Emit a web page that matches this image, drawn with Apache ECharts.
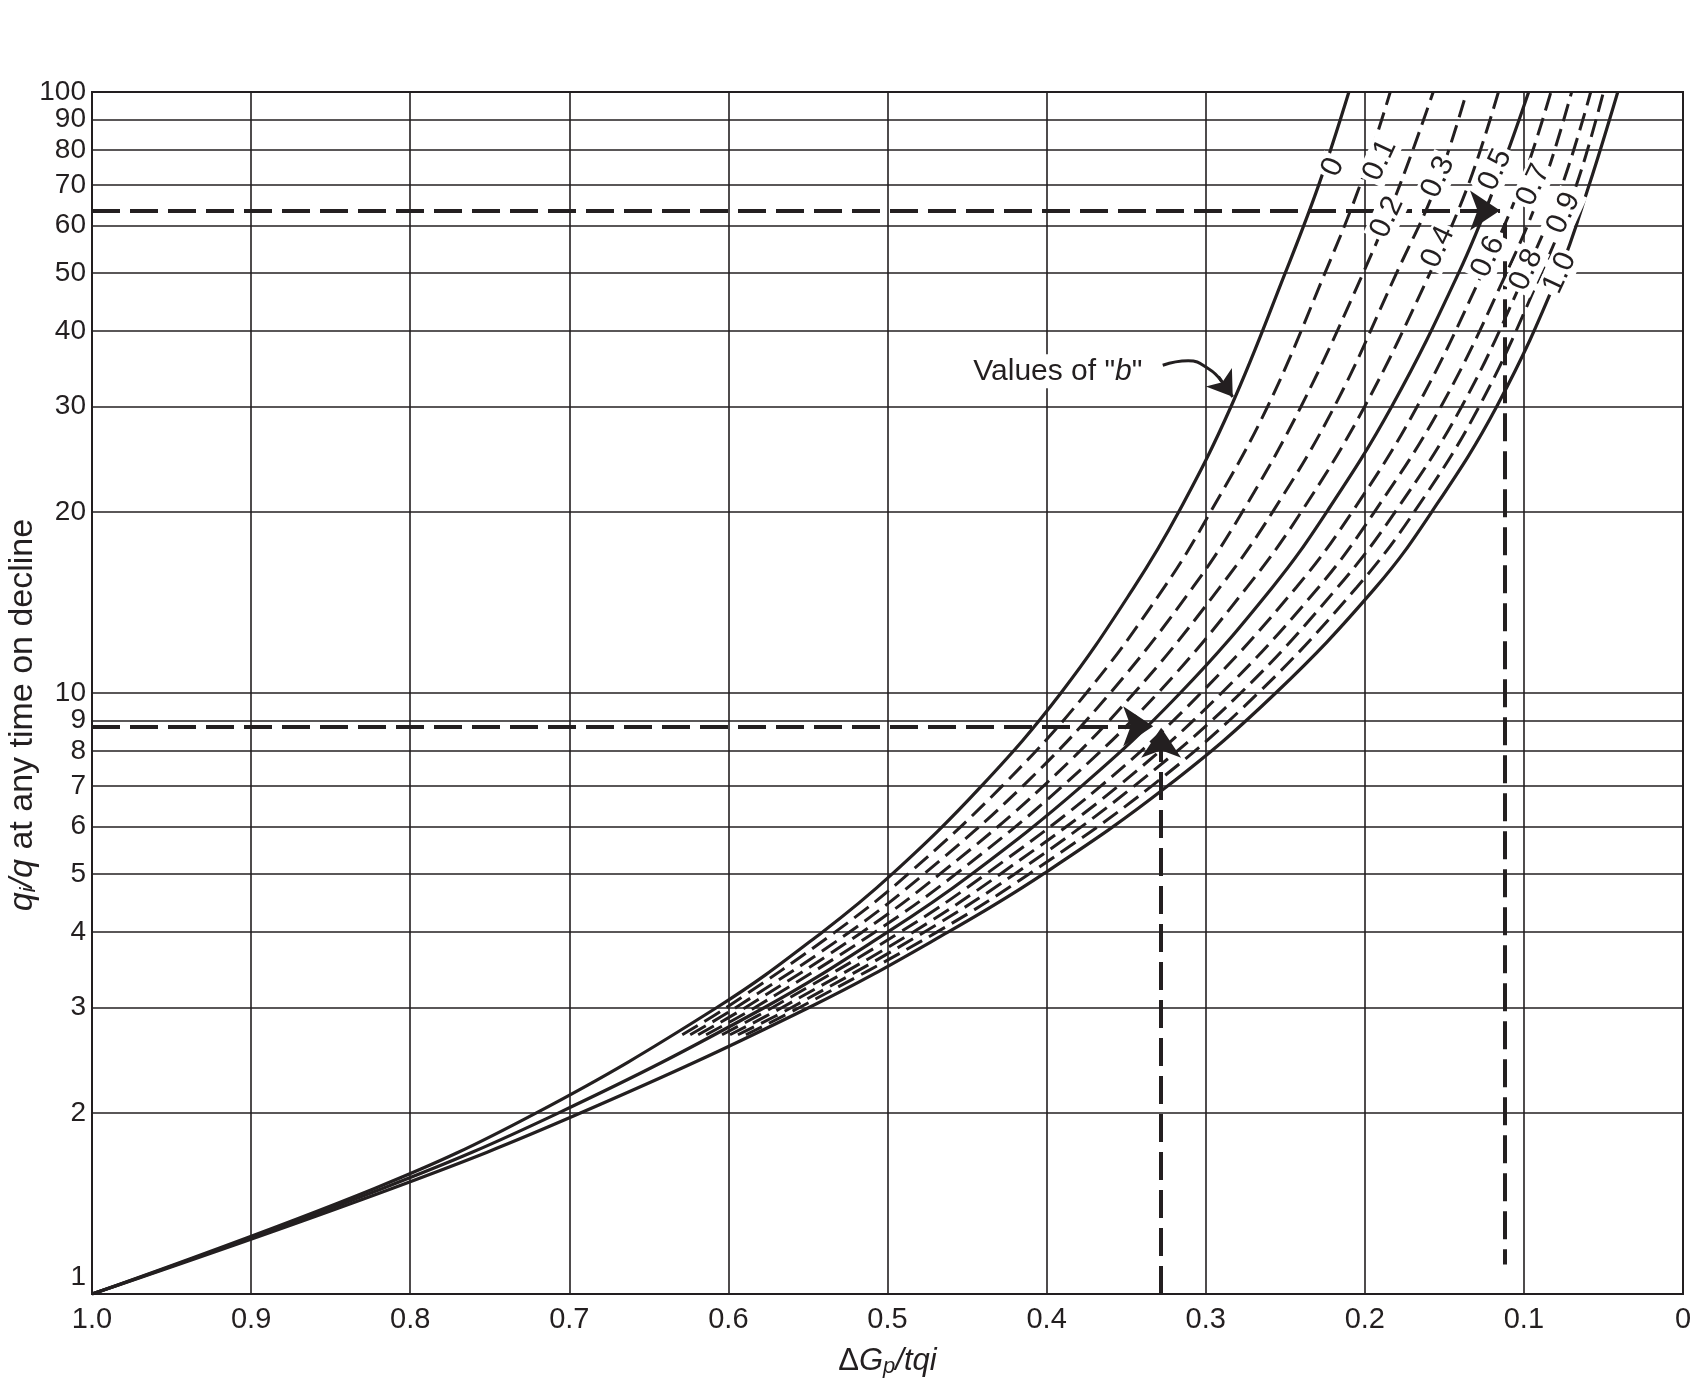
<!DOCTYPE html>
<html>
<head>
<meta charset="utf-8">
<script src="https://cdn.jsdelivr.net/npm/echarts@6/dist/echarts.min.js"></script>
<style>
  html, body { margin: 0; padding: 0; background: #fff; }
  #chart { width: 1708px; height: 1388px; }
</style>
</head>
<body>
<div id="chart"></div>
<script>
// qi/q values where the curves were read
var ratioSolid = [1, 1.5, 2, 3, 4, 5, 7, 10, 15, 20, 30, 50, 70, 100];
var ratioDashed = [2.7, 3, 4, 5, 7, 10, 15, 20, 30, 50, 70, 100];

// dGp/tqi for each value of b (solid: 0, 0.5, 1.0 ; dashed start near 0.6)
var b00 = [1.000, 0.822, 0.721, 0.607, 0.541, 0.497, 0.441, 0.391, 0.345, 0.317, 0.284, 0.250, 0.229, 0.210];
var b01 = [0.629, 0.601, 0.533, 0.487, 0.428, 0.375, 0.326, 0.297, 0.261, 0.225, 0.203, 0.184];
var b02 = [0.624, 0.595, 0.524, 0.477, 0.415, 0.360, 0.308, 0.277, 0.240, 0.201, 0.178, 0.157];
var b03 = [0.619, 0.589, 0.516, 0.467, 0.402, 0.345, 0.291, 0.258, 0.219, 0.180, 0.155, 0.136];
var b04 = [0.614, 0.583, 0.508, 0.457, 0.390, 0.330, 0.274, 0.240, 0.200, 0.159, 0.135, 0.116];
var b05 = [1.000, 0.817, 0.707, 0.577, 0.500, 0.447, 0.378, 0.316, 0.258, 0.224, 0.183, 0.141, 0.118, 0.097];
var b06 = [0.604, 0.572, 0.492, 0.438, 0.366, 0.303, 0.243, 0.208, 0.167, 0.126, 0.102, 0.083];
var b07 = [0.599, 0.566, 0.484, 0.429, 0.355, 0.290, 0.229, 0.194, 0.152, 0.111, 0.088, 0.070];
var b08 = [0.594, 0.560, 0.477, 0.420, 0.345, 0.278, 0.217, 0.181, 0.139, 0.099, 0.076, 0.058];
var b09 = [0.589, 0.555, 0.469, 0.411, 0.334, 0.267, 0.205, 0.169, 0.128, 0.089, 0.067, 0.050];
var b10 = [1.000, 0.811, 0.693, 0.549, 0.462, 0.402, 0.324, 0.256, 0.193, 0.158, 0.117, 0.078, 0.059, 0.041];

var bNames = ['0', '0.1', '0.2', '0.3', '0.4', '0.5', '0.6', '0.7', '0.8', '0.9', '1.0'];
var curves = [b00, b01, b02, b03, b04, b05, b06, b07, b08, b09, b10];
var solidCurve = [true, false, false, false, false, true, false, false, false, false, true];

// labels written along the curves
var labelX = [0.220, 0.1905, 0.186, 0.154, 0.154, 0.118, 0.1225, 0.094, 0.0985, 0.075, 0.0775];
var labelY = [75.0, 77.0, 61.9, 72.2, 55.2, 74.2, 53.2, 70.0, 50.6, 62.9, 50.0];

// axis ticks
var yTicks = [1, 2, 3, 4, 5, 6, 7, 8, 9, 10, 20, 30, 40, 50, 60, 70, 80, 90, 100];

// worked example guide lines [x, y]
var upperArrow = [[1.0, 63.5], [0.115, 63.5]];
var upperDrop = [[0.112, 60.5], [0.112, 1.12]];
var lowerArrow = [[1.0, 8.8], [0.333, 8.8]];
var lowerRise = [[0.328, 1.0], [0.328, 8.75]];

// "Values of b" pointer
var noteCurve = [[0.327, 35.1], [0.311, 35.7], [0.298, 34.6], [0.290, 33.0]];
var noteHead = [[0.292, 33.6], [0.283, 31.1]];
var notePos = [0.336, 34.3];

var ink = '#231f20';
var font = '"Liberation Sans", Arial, Helvetica, sans-serif';

var series = [];
for (var i = 0; i < curves.length; i++) {
    var ys = solidCurve[i] ? ratioSolid : ratioDashed;
    var pts = [];
    for (var j = 0; j < ys.length; j++) {
        pts.push([curves[i][j], ys[j]]);
    }
    series.push({
        name: 'b = ' + bNames[i],
        type: 'line',
        data: pts,
        showSymbol: false,
        smooth: 0.4,
        z: 3,
        lineStyle: solidCurve[i]
            ? { color: ink, width: 3.2 }
            : { color: ink, width: 3, type: [18, 8] }
    });
}

function guide(pair, withArrow) {
    return [
        { coord: pair[0], symbol: 'none' },
        { coord: pair[1], symbol: withArrow ? 'arrow' : 'none', symbolSize: 30 }
    ];
}

// horizontal grid lines; the top one also carries the "100" tick label
// (x axis is inverted, so the line's end is at the left edge)
var yMax = yTicks[yTicks.length - 1];
series.push({
    type: 'line',
    data: [[1, 1]],
    showSymbol: false,
    lineStyle: { width: 0 },
    z: 2,
    markLine: {
        silent: true,
        animation: false,
        symbol: 'none',
        label: { show: false },
        lineStyle: { color: ink, width: 1.6, type: 'solid' },
        data: yTicks.map(function (v) {
            if (v !== yMax) return { yAxis: v };
            return {
                yAxis: v,
                label: {
                    show: true, position: 'end', distance: 6,
                    formatter: String(v),
                    color: ink, fontSize: 28, fontFamily: font,
                    padding: [0, 0, 8, 0]
                }
            };
        })
    }
});

// worked example guides
series.push({
    type: 'line',
    data: [[1, 1]],
    showSymbol: false,
    lineStyle: { width: 0 },
    z: 4,
    markLine: {
        silent: true,
        animation: false,
        symbol: 'none',
        label: { show: false },
        lineStyle: { color: ink, width: 4, type: [28, 10] },
        data: [
            guide(upperArrow, true),
            guide(upperDrop, false),
            guide(lowerArrow, true),
            guide(lowerRise, true)
        ]
    }
});

// curved pointer for the note
series.push({
    type: 'line',
    data: noteCurve,
    showSymbol: false,
    smooth: 0.5,
    zlevel: 1,
    silent: true,
    lineStyle: { color: ink, width: 3 },
    markLine: {
        silent: true,
        animation: false,
        symbol: ['none', 'arrow'],
        symbolSize: 24,
        label: { show: false },
        lineStyle: { color: ink, width: 3, type: 'solid' },
        data: [[{ coord: noteHead[0] }, { coord: noteHead[1] }]]
    }
});

// texts: note and b labels
var curveLabelPoints = labelX.map(function (x, k) {
    return {
        coord: [x, labelY[k]],
        label: {
            show: true,
            position: 'inside',
            rotate: 65,
            formatter: bNames[k],
            color: ink,
            fontSize: 30,
            fontFamily: font,
            textBorderWidth: 0,
            backgroundColor: '#fff',
            padding: [0, 3]
        }
    };
});

series.push({
    type: 'line',
    data: [[1, 1]],
    showSymbol: false,
    lineStyle: { width: 0 },
    zlevel: 2,
    markPoint: {
        silent: true,
        animation: false,
        symbol: 'circle',
        symbolSize: 0,
        itemStyle: { color: ink, opacity: 1 },
        data: [{
            coord: notePos,
            label: {
                show: true,
                position: 'left',
                distance: 2,
                formatter: 'Values of "{i|b}"',
                color: ink,
                fontSize: 30,
                fontFamily: font,
                backgroundColor: '#fff',
                padding: [2, 4],
                textBorderWidth: 0,
                rich: { i: { fontStyle: 'italic', fontSize: 30, fontFamily: font, color: ink } }
            }
        }].concat(curveLabelPoints)
    }
});

var option = {
    animation: false,
    backgroundColor: '#fff',
    grid: {
        left: 92, right: 25, top: 92, bottom: 94,
        show: true, borderColor: ink, borderWidth: 2,
        outerBoundsMode: 'none'
    },
    xAxis: {
        type: 'value',
        min: 0, max: 1, interval: 0.1,
        inverse: true,
        name: '{d|Δ}{i|G}{s|p}{i|/tqi}',
        nameLocation: 'middle',
        nameGap: 50,
        nameTextStyle: {
            rich: {
                d: { fontSize: 31, fontFamily: font, color: ink },
                i: { fontSize: 31, fontFamily: font, color: ink, fontStyle: 'italic' },
                s: { fontSize: 22, fontFamily: font, color: ink, fontStyle: 'italic', verticalAlign: 'bottom', padding: [12, 0, 0, 0] }
            }
        },
        axisLine: { show: true, lineStyle: { color: ink, width: 2 } },
        axisTick: { show: false },
        axisLabel: {
            fontSize: 29, fontFamily: font, color: ink, margin: 11,
            formatter: function (v) {
                if (v === 1) return '1.0';
                if (v === 0) return '0';
                return v.toFixed(1);
            }
        },
        splitLine: { show: true, lineStyle: { color: ink, width: 1.6 } }
    },
    yAxis: {
        type: 'log',
        logBase: 10,
        min: 1, max: 100,
        name: '{i|q}{s|i}{i|/q}{n| at any time on decline}',
        nameLocation: 'middle',
        nameRotate: 90,
        nameGap: 52,
        nameTextStyle: {
            padding: [0, 44, 0, 0],
            rich: {
                n: { fontSize: 34, fontFamily: font, color: ink },
                i: { fontSize: 34, fontFamily: font, color: ink, fontStyle: 'italic' },
                s: { fontSize: 22, fontFamily: font, color: ink, fontStyle: 'italic', verticalAlign: 'bottom', padding: [12, 0, 0, 0] }
            }
        },
        axisLine: { show: true, lineStyle: { color: ink, width: 2 } },
        axisTick: { show: false },
        axisLabel: {
            // the top value is labelled on its grid line instead
            customValues: yTicks.filter(function (v) { return v !== yMax; }),
            showMaxLabel: true,
            fontSize: 28, fontFamily: font, color: ink, margin: 6,
            formatter: function (v) {
                var n = Math.round(v);
                return n === 1 ? '{lo|1}' : String(n);
            },
            rich: { lo: { fontSize: 28, fontFamily: font, color: ink, padding: [0, 0, 34, 0] } }
        },
        splitLine: { show: false },
        minorSplitLine: { show: false }
    },
    series: series
};

var myChart = echarts.init(document.getElementById('chart'));
myChart.setOption(option);
</script>
</body>
</html>
